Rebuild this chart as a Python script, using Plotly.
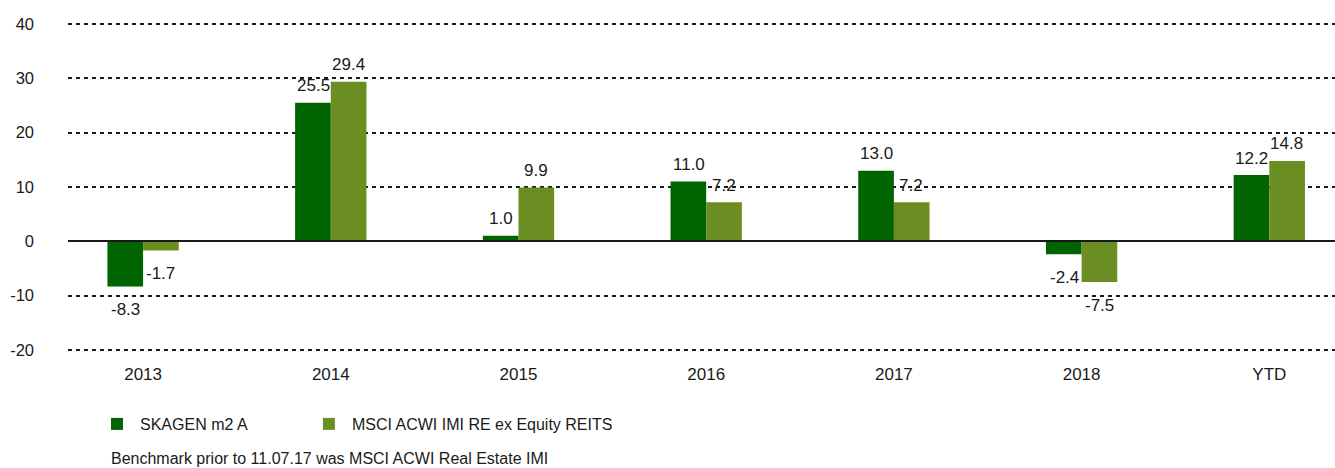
import plotly.graph_objects as go

categories = ["2013", "2014", "2015", "2016", "2017", "2018", "YTD"]
skagen = [-8.3, 25.5, 1.0, 11.0, 13.0, -2.4, 12.2]
msci = [-1.7, 29.4, 9.9, 7.2, 7.2, -7.5, 14.8]
y_ticks = [-20, -10, 0, 10, 20, 30, 40]
y_ticktext = ["-20", "-10", "0", "10", "20", "30", "40"]
footnote = "Benchmark prior to 11.07.17 was MSCI ACWI Real Estate IMI"

W, H = 1335, 468
ML, MR, MT, MB = 68, 0, 23, 117
PW = W - ML - MR
PH = H - MT - MB

FONT = "Liberation Sans, Arial, sans-serif"
TXT = "#1a1a1a"
COLORS = ["#006400", "#6B8E23"]
NAMES = ["SKAGEN m2 A" + "\u00a0" * 12, "MSCI ACWI IMI RE ex Equity REITS"]

fig = go.Figure()
for vals, name, col in zip([skagen, msci], NAMES, COLORS):
    fig.add_trace(go.Bar(
        x=categories, y=vals, name=name,
        marker=dict(color=col, line=dict(width=0)),
        cliponaxis=False,
    ))

# value labels placed at each bar's end through the data scales
annotations = []
for vals, dx in ((skagen, -17.5), (msci, 17.5)):
    for i, v in enumerate(vals):
        annotations.append(dict(
            x=i, y=v, xref="x", yref="y", text=f"{v:.1f}", showarrow=False,
            xshift=dx, yshift=17 if v >= 0 else -23,
            xanchor="center", yanchor="middle",
            font=dict(family=FONT, size=17, color=TXT),
        ))

annotations.append(dict(
    text=footnote, xref="paper", yref="paper",
    x=(109 - ML) / PW, xanchor="left",
    y=(MT + PH - 458) / PH, yanchor="middle",
    showarrow=False, font=dict(family=FONT, size=16, color=TXT),
))

fig.update_layout(
    width=W, height=H,
    margin=dict(l=ML, r=MR, t=MT, b=MB, autoexpand=False),
    paper_bgcolor="white", plot_bgcolor="white",
    font=dict(family=FONT, size=16, color=TXT),
    barmode="group", bargap=0.62, bargroupgap=0,
    showlegend=True,
    legend=dict(
        orientation="h", x=(94 - ML) / PW, xanchor="left",
        y=(MT + PH - 424) / PH, yanchor="middle",
        itemwidth=36,
        font=dict(family=FONT, size=16, color=TXT),
        bgcolor="rgba(0,0,0,0)",
    ),
    xaxis=dict(
        type="category", range=[-0.40, 6.35],
        showgrid=False, showline=False, ticks="",
        ticklabelstandoff=11,
        tickfont=dict(family=FONT, size=17, color=TXT),
    ),
    yaxis=dict(
        range=[-20.2, 40.2], tickvals=y_ticks, ticktext=y_ticktext,
        showgrid=True, gridcolor=TXT, gridwidth=2, griddash="4px,4px",
        zeroline=True, zerolinecolor=TXT, zerolinewidth=2,
        showline=False, ticks="",
        ticklabelstandoff=33,
        tickfont=dict(family=FONT, size=16.5, color=TXT),
    ),
    annotations=annotations,
)
try:
    fig.update_yaxes(zerolinelayer="above traces")
except Exception:
    pass

fig.write_html("out.html", config={"displayModeBar": False})
with open("out.html", encoding="utf-8") as f:
    html = f.read()
html = html.replace("<head>", "<head><style>html,body{margin:0;padding:0;overflow:hidden;}</style>", 1)
with open("out.html", "w", encoding="utf-8") as f:
    f.write(html)
